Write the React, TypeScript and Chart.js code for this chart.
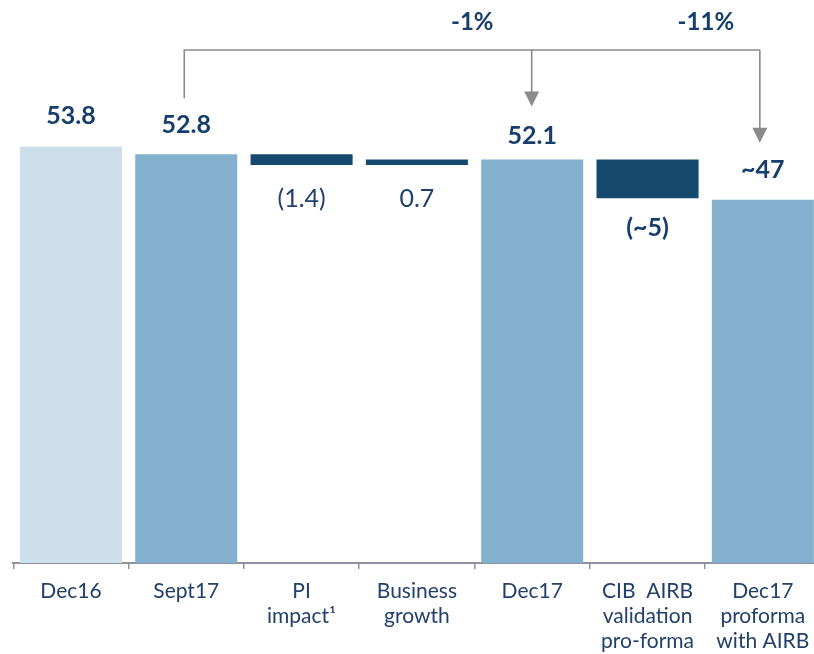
import React, { useEffect, useRef } from "react";
import { Chart, registerables } from "chart.js";

Chart.register(...registerables);

const categories: string[][] = [
  ["Dec16"],
  ["Sept17"],
  ["PI", "impact¹"],
  ["Business", "growth"],
  ["Dec17"],
  ["CIB  AIRB", "validation", "pro-forma"],
  ["Dec17", "proforma", "with AIRB"],
];
const totals: (number | null)[] = [53.8, 52.8, null, null, 52.1, null, 46.9];
const deltas: (number | null)[] = [null, null, -1.4, 0.7, null, -5.0, null];
const valueLabels = ["53.8", "52.8", "(1.4)", "0.7", "52.1", "(~5)", "~47"];
const labelBold = [true, true, false, false, true, true, true];
const changeLabels = ["-1%", "-11%"];
const bracketFrom = 1;
const bracketTo = [4, 6];

const barColors = ["#cddfeb", "#82b0cd", "#154a6e", "#154a6e", "#82b0cd", "#154a6e", "#82b0cd"];
const NAVY = "#163d6b";
const TEXT = "#21406b";
const GREY = "#8a8a8a";
const FONT = "Lato";

function buildRanges(): [number, number][] {
  const out: [number, number][] = [];
  let running = 0;
  for (let i = 0; i < categories.length; i++) {
    const t = totals[i];
    if (t != null) {
      out.push([0, t]);
      running = t;
    } else {
      const next = running + (deltas[i] as number);
      out.push([Math.min(running, next), Math.max(running, next)]);
      running = next;
    }
  }
  return out;
}

const annotationPlugin = {
  id: "waterfallAnnotations",
  afterDatasetsDraw(chart: any) {
    const ctx = chart.ctx as CanvasRenderingContext2D;
    const meta = chart.getDatasetMeta(0);
    const area = chart.chartArea;
    ctx.save();
    ctx.textAlign = "center";
    ctx.textBaseline = "middle";
    const labelCenters: number[] = [];
    meta.data.forEach((el: any, i: number) => {
      const top = Math.min(el.y, el.base);
      const bottom = Math.max(el.y, el.base);
      const isTotal = totals[i] != null;
      ctx.font = `${labelBold[i] ? "bold " : ""}25px ${FONT}`;
      ctx.fillStyle = labelBold[i] ? NAVY : TEXT;
      let y: number;
      if (isTotal) {
        const gap = i === 4 ? 24 : i === 1 ? 29 : 30;
        y = top - gap;
      } else {
        y = bottom + (labelBold[i] ? 30 : 34);
      }
      labelCenters[i] = y;
      ctx.fillText(valueLabels[i], el.x, y);
    });

    // bracket
    const lineY = area.top + 29;
    const xFrom = meta.data[bracketFrom].x - 2;
    ctx.strokeStyle = GREY;
    ctx.fillStyle = GREY;
    ctx.lineWidth = 1.6;
    ctx.beginPath();
    ctx.moveTo(xFrom, labelCenters[bracketFrom] - 27);
    ctx.lineTo(xFrom, lineY);
    const lastX = meta.data[bracketTo[bracketTo.length - 1]].x - 3;
    ctx.lineTo(lastX, lineY);
    ctx.stroke();
    bracketTo.forEach((idx, k) => {
      const x = meta.data[idx].x - (k === 0 ? 0.5 : 3);
      const tip = labelCenters[idx] - (k === 0 ? 29 : 27);
      ctx.beginPath();
      ctx.moveTo(x, lineY);
      ctx.lineTo(x, tip - 14);
      ctx.stroke();
      ctx.beginPath();
      ctx.moveTo(x - 7.5, tip - 15);
      ctx.lineTo(x + 7.5, tip - 15);
      ctx.lineTo(x, tip);
      ctx.closePath();
      ctx.fill();
      ctx.font = `bold 24px ${FONT}`;
      ctx.fillStyle = NAVY;
      ctx.fillText(changeLabels[k], meta.data[idx].x - (k === 0 ? 60 : 57), area.top + 1);
      ctx.fillStyle = GREY;
    });
    ctx.restore();
  },
};

export default function App() {
  const ref = useRef<HTMLCanvasElement | null>(null);
  useEffect(() => {
    if (!ref.current) return;
    const chart = new Chart(ref.current, {
      type: "bar",
      data: {
        labels: categories,
        datasets: [
          {
            data: buildRanges() as any,
            backgroundColor: barColors,
            borderWidth: 0,
            barPercentage: 0.885,
            categoryPercentage: 1,
          },
        ],
      },
      options: {
        responsive: false,
        animation: false,
        devicePixelRatio: 1,
        layout: { padding: { left: 13.3, right: 1.5, top: 21, bottom: 0 } },
        plugins: { legend: { display: false }, tooltip: { enabled: false } },
        scales: {
          x: {
            offset: true,
            grid: {
              display: true,
              offset: true,
              drawOnChartArea: false,
              drawTicks: true,
              tickLength: 6,
              color: "#8e919c",
              lineWidth: 1.5,
            },
            border: { display: true, color: "#8e919c", width: 2 },
            ticks: {
              color: TEXT,
              font: { family: FONT, size: 21, lineHeight: 25 / 21 },
              padding: 9.5,
              maxRotation: 0,
              autoSkip: false,
            },
            afterFit: (scale: any) => {
              scale.height = 91;
            },
          },
          y: { display: false, min: 0, max: 70 },
        },
      },
      plugins: [annotationPlugin],
    });
    return () => chart.destroy();
  }, []);
  return (
    <div style={{ position: "fixed", left: 0, top: 0, width: 814, height: 654, overflow: "hidden", background: "#fff" }}>
      <canvas ref={ref} width={822} height={654} style={{ width: 822, height: 654, display: "block" }} />
    </div>
  );
}
